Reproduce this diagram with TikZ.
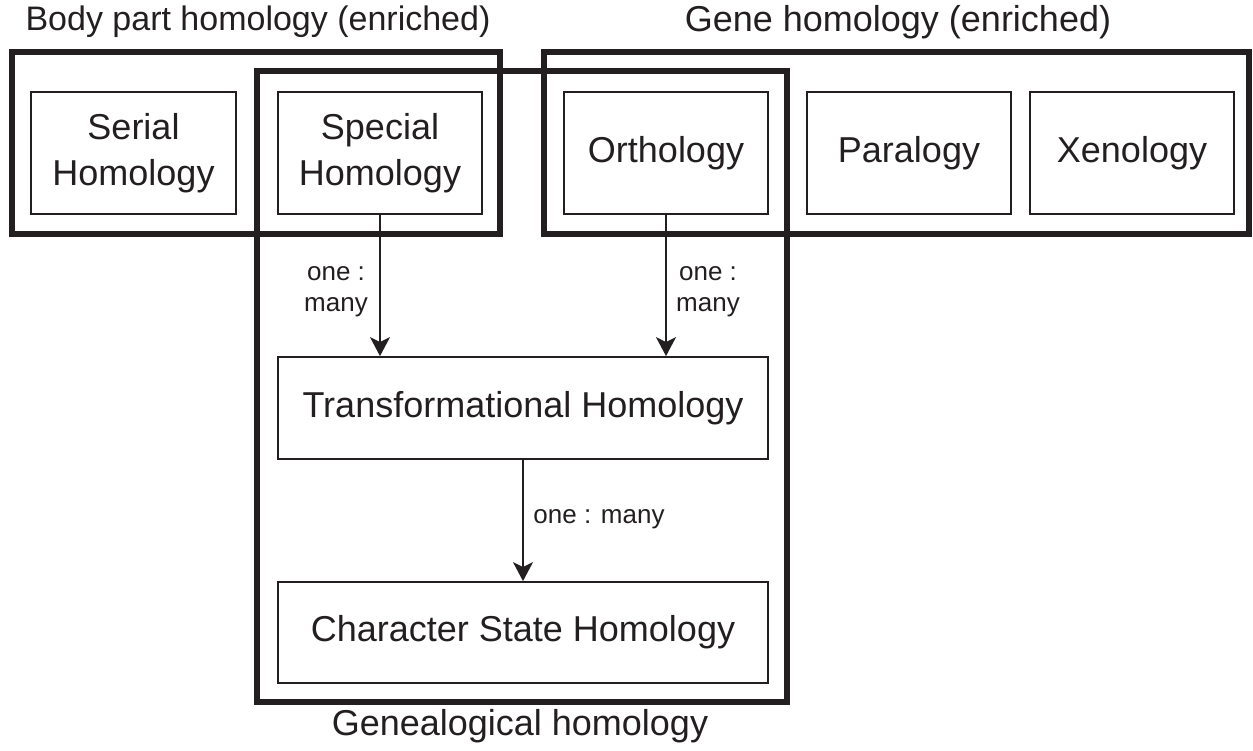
\documentclass[tikz,border=0pt]{standalone}
\usepackage{fontspec}
\setmainfont{Liberation Sans}
\usetikzlibrary{arrows.meta}
\definecolor{ink}{HTML}{231F20}
\begin{document}
\begin{tikzpicture}[x=1pt,y=-1pt,
  inbox/.style={draw=ink,line width=1.8pt,rectangle,inner sep=0pt,align=center,font=\fontsize{36}{46}\selectfont,text=ink},
  group/.style={draw=ink,line width=6pt},
  link/.style={draw=ink,line width=1.5pt,-{Stealth[length=19pt,width=20pt,inset=5pt]}},
  lab/.style={font=\fontsize{26}{31}\selectfont,text=ink,align=center,inner sep=0pt},
  grouptitle/.style={text=ink,inner sep=0pt}]
\useasboundingbox (0,0) rectangle (1253,750);
% group boxes
\draw[group] (12,52) rectangle (500,234);
\draw[group] (544,52) rectangle (1249,234);
\draw[group] (257,71) rectangle (787,702);
% titles
\node[grouptitle,font=\fontsize{34}{40}\selectfont] (tbody) at (258,22) {Body part homology (enriched)};
\node[grouptitle,font=\fontsize{36}{40}\selectfont] (tgene) at (898,22) {Gene homology (enriched)};
\node[grouptitle,font=\fontsize{36}{40}\selectfont] (tgen) at (520,726) {Genealogical homology};
% inner boxes
\node[inbox,minimum width=205pt,minimum height=122pt] (serial) at (133.5,153) {Serial\\Homology};
\node[inbox,minimum width=204pt,minimum height=122pt] (special) at (380,153) {Special\\Homology};
\node[inbox,minimum width=204pt,minimum height=122pt] (ortho) at (666,153) {Orthology};
\node[inbox,minimum width=204pt,minimum height=122pt] (para) at (909,153) {Paralogy};
\node[inbox,minimum width=204pt,minimum height=122pt] (xeno) at (1132,153) {Xenology};
\node[inbox,minimum width=490pt,minimum height=102pt] (trans) at (523,408) {Transformational Homology};
\node[inbox,minimum width=490pt,minimum height=101pt] (char) at (523,632.5) {Character State Homology};
% connectors
\draw[link] (special.south) -- (special.south |- trans.north);
\draw[link] (ortho.south) -- (ortho.south |- trans.north);
\draw[link] (trans.south) -- (char.north);
% labels
\node[lab] (l1) at (336,292) {one :\\many};
\node[lab] (l2) at (708,292) {one :\\many};
\node[lab] (l3) at (599,519) {one : many};
\end{tikzpicture}
\end{document}
